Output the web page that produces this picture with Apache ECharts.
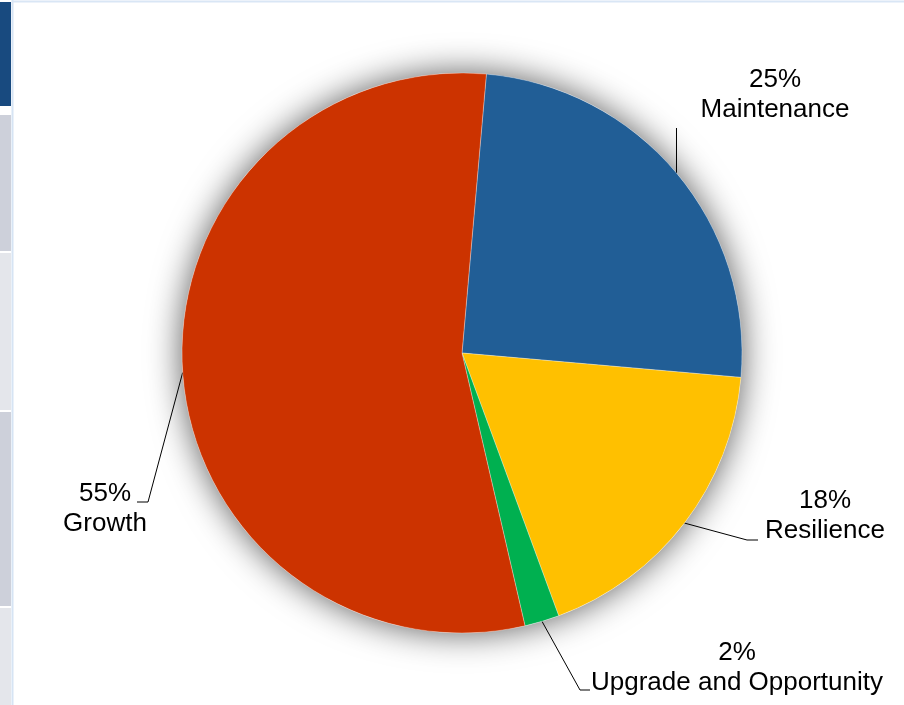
<!DOCTYPE html>
<html><head><meta charset="utf-8">
<script src="https://cdn.jsdelivr.net/npm/echarts@6/dist/echarts.min.js"></script>
<style>html,body{margin:0;padding:0;background:#fff}#c{width:904px;height:705px}</style>
</head><body><div id="c"></div>
<script>
const categories = ['Maintenance', 'Resilience', 'Upgrade and Opportunity', 'Growth'];
const values = [25, 18, 2, 55];
const colors = ['#215E96', '#FFC000', '#00B050', '#CC3300'];

// label text-block centres and leader line bend points (annotation layout)
const labelPlacement = [
  { x: 775, y: 95, vertical: true, endY: 128 },
  { x: 825, y: 516, line: [[747, 540], [758, 540]] },
  { x: 737, y: 668, line: [[580, 690], [590, 690]] },
  { x: 105, y: 509, line: [[148, 502], [137, 502]] }
];

const CX = 462, CY = 353, R = 280, START = 85;
const total = values.reduce((a, b) => a + b, 0);

function fallbackAnchor(idx) {
  let before = 0;
  for (let i = 0; i < idx; i++) before += values[i];
  const mid = (before + values[idx] / 2) / total * 360;
  const ang = (START - mid) * Math.PI / 180;
  return [CX + R * Math.cos(ang), CY - R * Math.sin(ang)];
}

const chart = echarts.init(document.getElementById('c'), null, { renderer: 'canvas' });
chart.setOption({
  backgroundColor: '#ffffff',
  animation: false,
  graphic: [
    { type: 'rect', shape: { x: 0, y: 2, width: 11, height: 104 }, style: { fill: '#184A7F' } },
    { type: 'rect', shape: { x: 0, y: 115, width: 11, height: 136 }, style: { fill: '#CDD0DA' } },
    { type: 'rect', shape: { x: 0, y: 253, width: 11, height: 157 }, style: { fill: '#E4E6EB' } },
    { type: 'rect', shape: { x: 0, y: 412, width: 11, height: 194 }, style: { fill: '#CDD0DA' } },
    { type: 'rect', shape: { x: 0, y: 608, width: 11, height: 97 }, style: { fill: '#E4E6EB' } },
    { type: 'line', shape: { x1: 12.5, y1: 0, x2: 12.5, y2: 705 }, style: { stroke: '#D6E4F4', lineWidth: 2 } },
    { type: 'line', shape: { x1: 12, y1: 1.5, x2: 904, y2: 1.5 }, style: { stroke: '#D9E6F5', lineWidth: 2 } }
  ],
  series: [
    {
      type: 'pie',
      silent: true,
      center: [CX, CY],
      radius: R,
      label: { show: false },
      labelLine: { show: false },
      itemStyle: { color: '#ffffff', shadowBlur: 34, shadowColor: 'rgba(0,0,0,0.65)' },
      data: [{ name: 'total', value: total }],
      z: 1
    },
    {
      type: 'pie',
      center: [CX, CY],
      radius: R,
      startAngle: START,
      clockwise: true,
      avoidLabelOverlap: false,
      z: 2,
      itemStyle: { borderColor: 'rgba(255,255,255,0.5)', borderWidth: 0.6 },
      label: {
        show: true,
        position: 'outside',
        formatter: p => Math.round(p.percent) + '%\n' + p.name,
        color: '#000000',
        fontFamily: 'Liberation Sans',
        fontSize: 26,
        lineHeight: 30,
        align: 'center'
      },
      labelLine: { show: true, length: 10, length2: 10, smooth: false, lineStyle: { color: '#000000', width: 1 } },
      labelLayout: function (params) {
        const idx = params.dataIndex;
        const pl = labelPlacement[idx];
        const anchor = (params.labelLinePoints && params.labelLinePoints[0]) ? params.labelLinePoints[0].slice() : fallbackAnchor(idx);
        let pts;
        if (pl.vertical) {
          pts = [anchor, [anchor[0], pl.endY]];
        } else {
          pts = [anchor].concat(pl.line);
        }
        return { x: pl.x, y: pl.y, align: 'center', verticalAlign: 'middle', labelLinePoints: pts };
      },
      data: categories.map((c, i) => ({ name: c, value: values[i], itemStyle: { color: colors[i] } }))
    }
  ]
});
</script>
</body></html>
